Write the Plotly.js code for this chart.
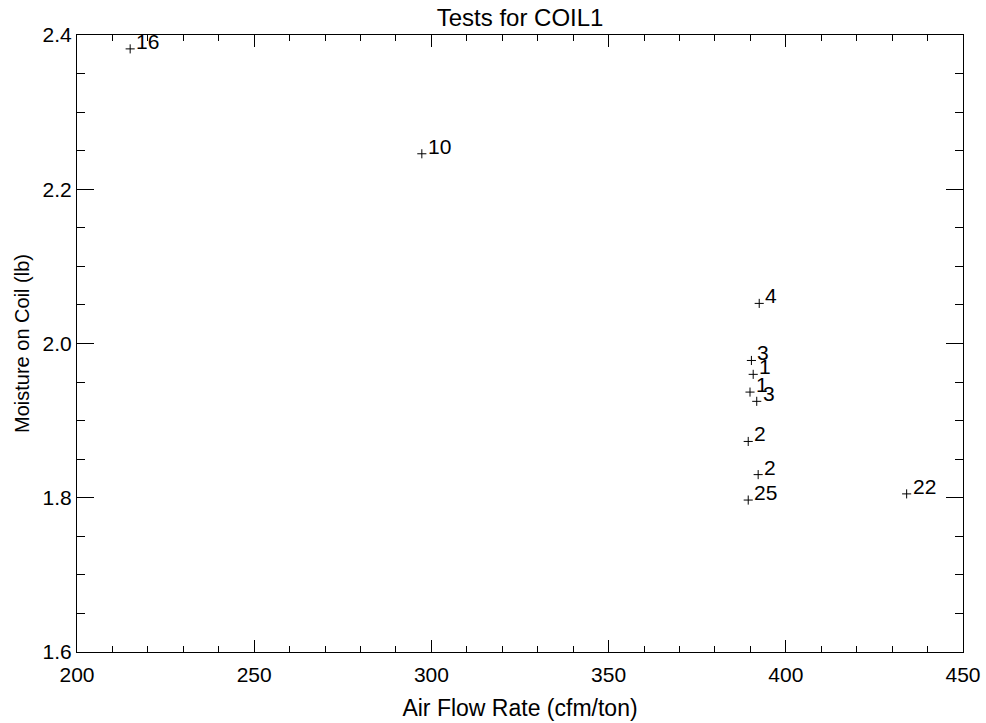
<!DOCTYPE html>
<html>
<head>
<meta charset="utf-8">
<script src="https://cdn.plot.ly/plotly-3.0.1.min.js"></script>
<style>html,body{margin:0;padding:0;background:#fff}#chart{width:986px;height:723px}</style>
</head>
<body>
<div id="chart"></div>
<script>
// Data
const airFlow   = [215.0, 297.3, 392.5, 390.3, 390.8, 389.9, 391.8, 389.4, 392.2, 389.4, 434.1];
const moisture  = [2.382, 2.246, 2.052, 1.978, 1.960, 1.937, 1.925, 1.873, 1.830, 1.797, 1.805];
const pointTags = ['16', '10', '4', '3', '1', '1', '3', '2', '2', '25', '22'];
const xTickVals = [200, 250, 300, 350, 400, 450];
const yTickVals = [1.6, 1.8, 2.0, 2.2, 2.4];

const FONT = 'Liberation Sans, Arial, Helvetica, sans-serif';

const trace = {
  type: 'scatter',
  mode: 'markers',
  x: airFlow,
  y: moisture,
  marker: {symbol: 'cross-thin', size: 6.5, color: '#000', line: {color: '#000', width: 1}},
  hoverinfo: 'x+y',
  showlegend: false
};

const annotations = pointTags.map((t, i) => ({
  x: airFlow[i], y: moisture[i], xref: 'x', yref: 'y',
  text: t, showarrow: false, xanchor: 'left', yanchor: 'bottom',
  xshift: 4, yshift: -6,
  font: {family: FONT, size: 21, color: '#000'}
}));

const axisCommon = {
  showgrid: false, zeroline: false,
  showline: true, linecolor: '#000', linewidth: 1, mirror: 'ticks',
  ticks: 'inside', tickcolor: '#000', tickwidth: 1,
  tickfont: {family: FONT, size: 21, color: '#000'}
};

const layout = {
  width: 986, height: 723,
  paper_bgcolor: '#fff', plot_bgcolor: '#fff',
  margin: {l: 77, r: 23, t: 35, b: 71, pad: 0},
  font: {family: FONT, color: '#000'},
  title: {text: 'Tests for COIL1', font: {family: FONT, size: 24, color: '#000'},
          x: 0.5275, xanchor: 'center', xref: 'container', yref: 'container', y: 0.975, yanchor: 'middle'},
  xaxis: Object.assign({}, axisCommon, {
    range: [200, 450], tickmode: 'array', tickvals: xTickVals,
    ticktext: xTickVals.map(String), ticklen: 12, ticklabelstandoff: 4,
    minor: {dtick: 10, ticklen: 6, ticks: 'inside', tickcolor: '#000', tickwidth: 1, showgrid: false},
    title: {text: 'Air Flow Rate (cfm/ton)', font: {family: FONT, size: 23, color: '#000'}, standoff: 14}
  }),
  yaxis: Object.assign({}, axisCommon, {
    range: [1.6, 2.4], tickmode: 'array', tickvals: yTickVals,
    ticktext: yTickVals.map(v => v.toFixed(1)), ticklen: 17,
    minor: {dtick: 0.05, ticklen: 8, ticks: 'inside', tickcolor: '#000', tickwidth: 1, showgrid: false},
    title: {text: 'Moisture on Coil (lb)', font: {family: FONT, size: 20, color: '#000'}, standoff: 7}
  }),
  annotations: annotations
};

Plotly.newPlot('chart', [trace], layout, {displayModeBar: false, staticPlot: true});
</script>
</body>
</html>
